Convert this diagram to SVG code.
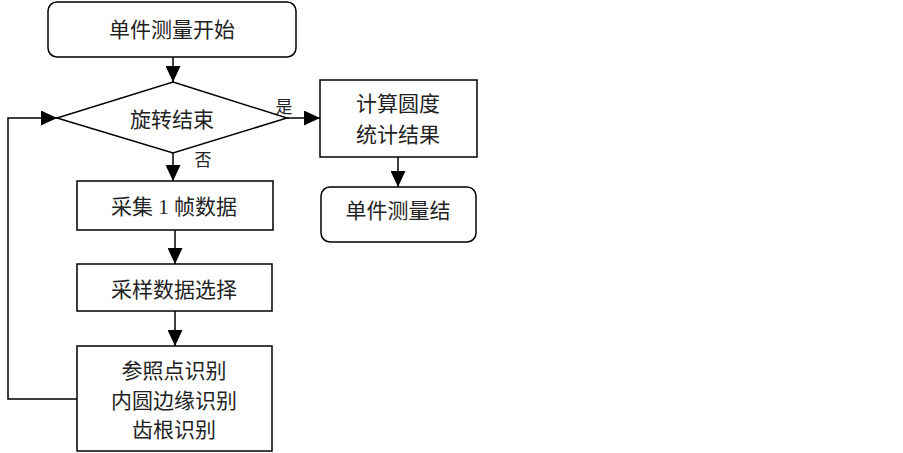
<svg xmlns="http://www.w3.org/2000/svg" width="903" height="453" viewBox="0 0 903 453">
<style>
.n{fill:#fff;stroke:#000;stroke-width:1.5}
.t{font-family:"Liberation Serif","Noto Sans CJK SC",serif;font-size:21px;fill:#222;text-anchor:middle;dominant-baseline:central}
.c{fill:none;stroke:#000;stroke-width:1.5}
</style>
<defs>
<marker id="ah" markerWidth="16" markerHeight="15" viewBox="0 0 16 15" refX="16" refY="7.5" orient="auto" markerUnits="userSpaceOnUse">
<path d="M0,0L16,7.5L0,15Z" fill="#000"/>
</marker>
</defs>
<rect width="903" height="453" fill="#fff"/>
<g id="connectors">
<line class="c" x1="173" y1="57" x2="173" y2="82" marker-end="url(#ah)"/>
<line class="c" x1="287" y1="118" x2="320" y2="118" marker-end="url(#ah)"/>
<line class="c" x1="398" y1="157" x2="398" y2="187" marker-end="url(#ah)"/>
<line class="c" x1="173" y1="153" x2="173" y2="181" marker-end="url(#ah)"/>
<line class="c" x1="175" y1="230" x2="175" y2="264" marker-end="url(#ah)"/>
<line class="c" x1="175" y1="311" x2="175" y2="346" marker-end="url(#ah)"/>
<polyline class="c" points="77,399 8,399 8,118 57,118" marker-end="url(#ah)"/>
<text class="t" x="284" y="107" style="font-size:17px">是</text>
<text class="t" x="203" y="160" style="font-size:17px">否</text>
</g>
<g id="start">
<rect class="n" x="48" y="2" width="248" height="55" rx="9"/>
<text class="t" x="172" y="30">单件测量开始</text>
</g>
<g id="decision">
<polygon class="n" points="173,82 287,118 173,153 57,118"/>
<text class="t" x="172" y="120">旋转结束</text>
</g>
<g id="calc">
<rect class="n" x="320" y="80" width="157" height="77"/>
<text class="t" x="398" y="104">计算圆度</text>
<text class="t" x="398" y="135">统计结果</text>
</g>
<g id="end">
<rect class="n" x="321" y="187" width="155" height="55" rx="9"/>
<text class="t" x="398" y="211">单件测量结</text>
</g>
<g id="collect">
<rect class="n" x="77" y="181" width="196" height="49"/>
<text class="t" x="174" y="207">采集 1 帧数据</text>
</g>
<g id="sample">
<rect class="n" x="77" y="264" width="195" height="47"/>
<text class="t" x="174" y="290">采样数据选择</text>
</g>
<g id="identify">
<rect class="n" x="77" y="346" width="195" height="105"/>
<text class="t" x="174" y="371">参照点识别</text>
<text class="t" x="174" y="401">内圆边缘识别</text>
<text class="t" x="174" y="430">齿根识别</text>
</g>
</svg>
